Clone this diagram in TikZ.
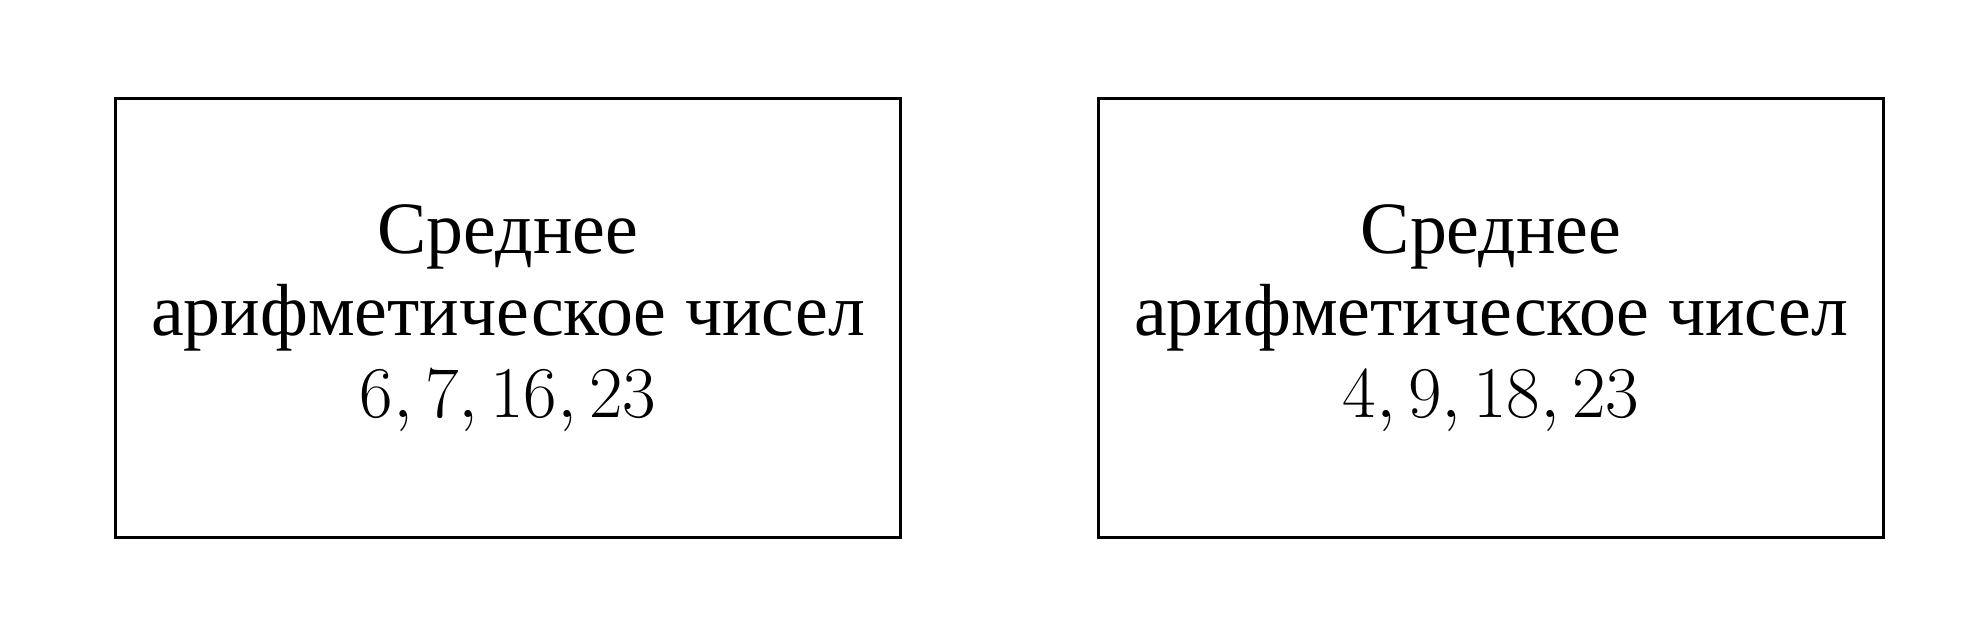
\documentclass[tikz,border=0pt]{standalone}
\usepackage{fontspec}
\setmainfont{Liberation Serif}
\tikzset{
	meanbox/.style={draw, line width=0.6pt, minimum width=7.85cm, minimum height=4.39cm,
		align=center, font=\fontsize{21}{23.3}\selectfont}
}
\begin{document}
\begin{tikzpicture}

		\useasboundingbox (0,0) rectangle (19.69,6.38);

		\node[meanbox] (left) at (5.08,3.2) {Среднее\\арифметическое чисел\\$6, 7, 16, 23$};
		\node[meanbox] (right) at (14.91,3.2) {Среднее\\арифметическое чисел\\$4, 9, 18, 23$};

		\end{tikzpicture}
\end{document}
